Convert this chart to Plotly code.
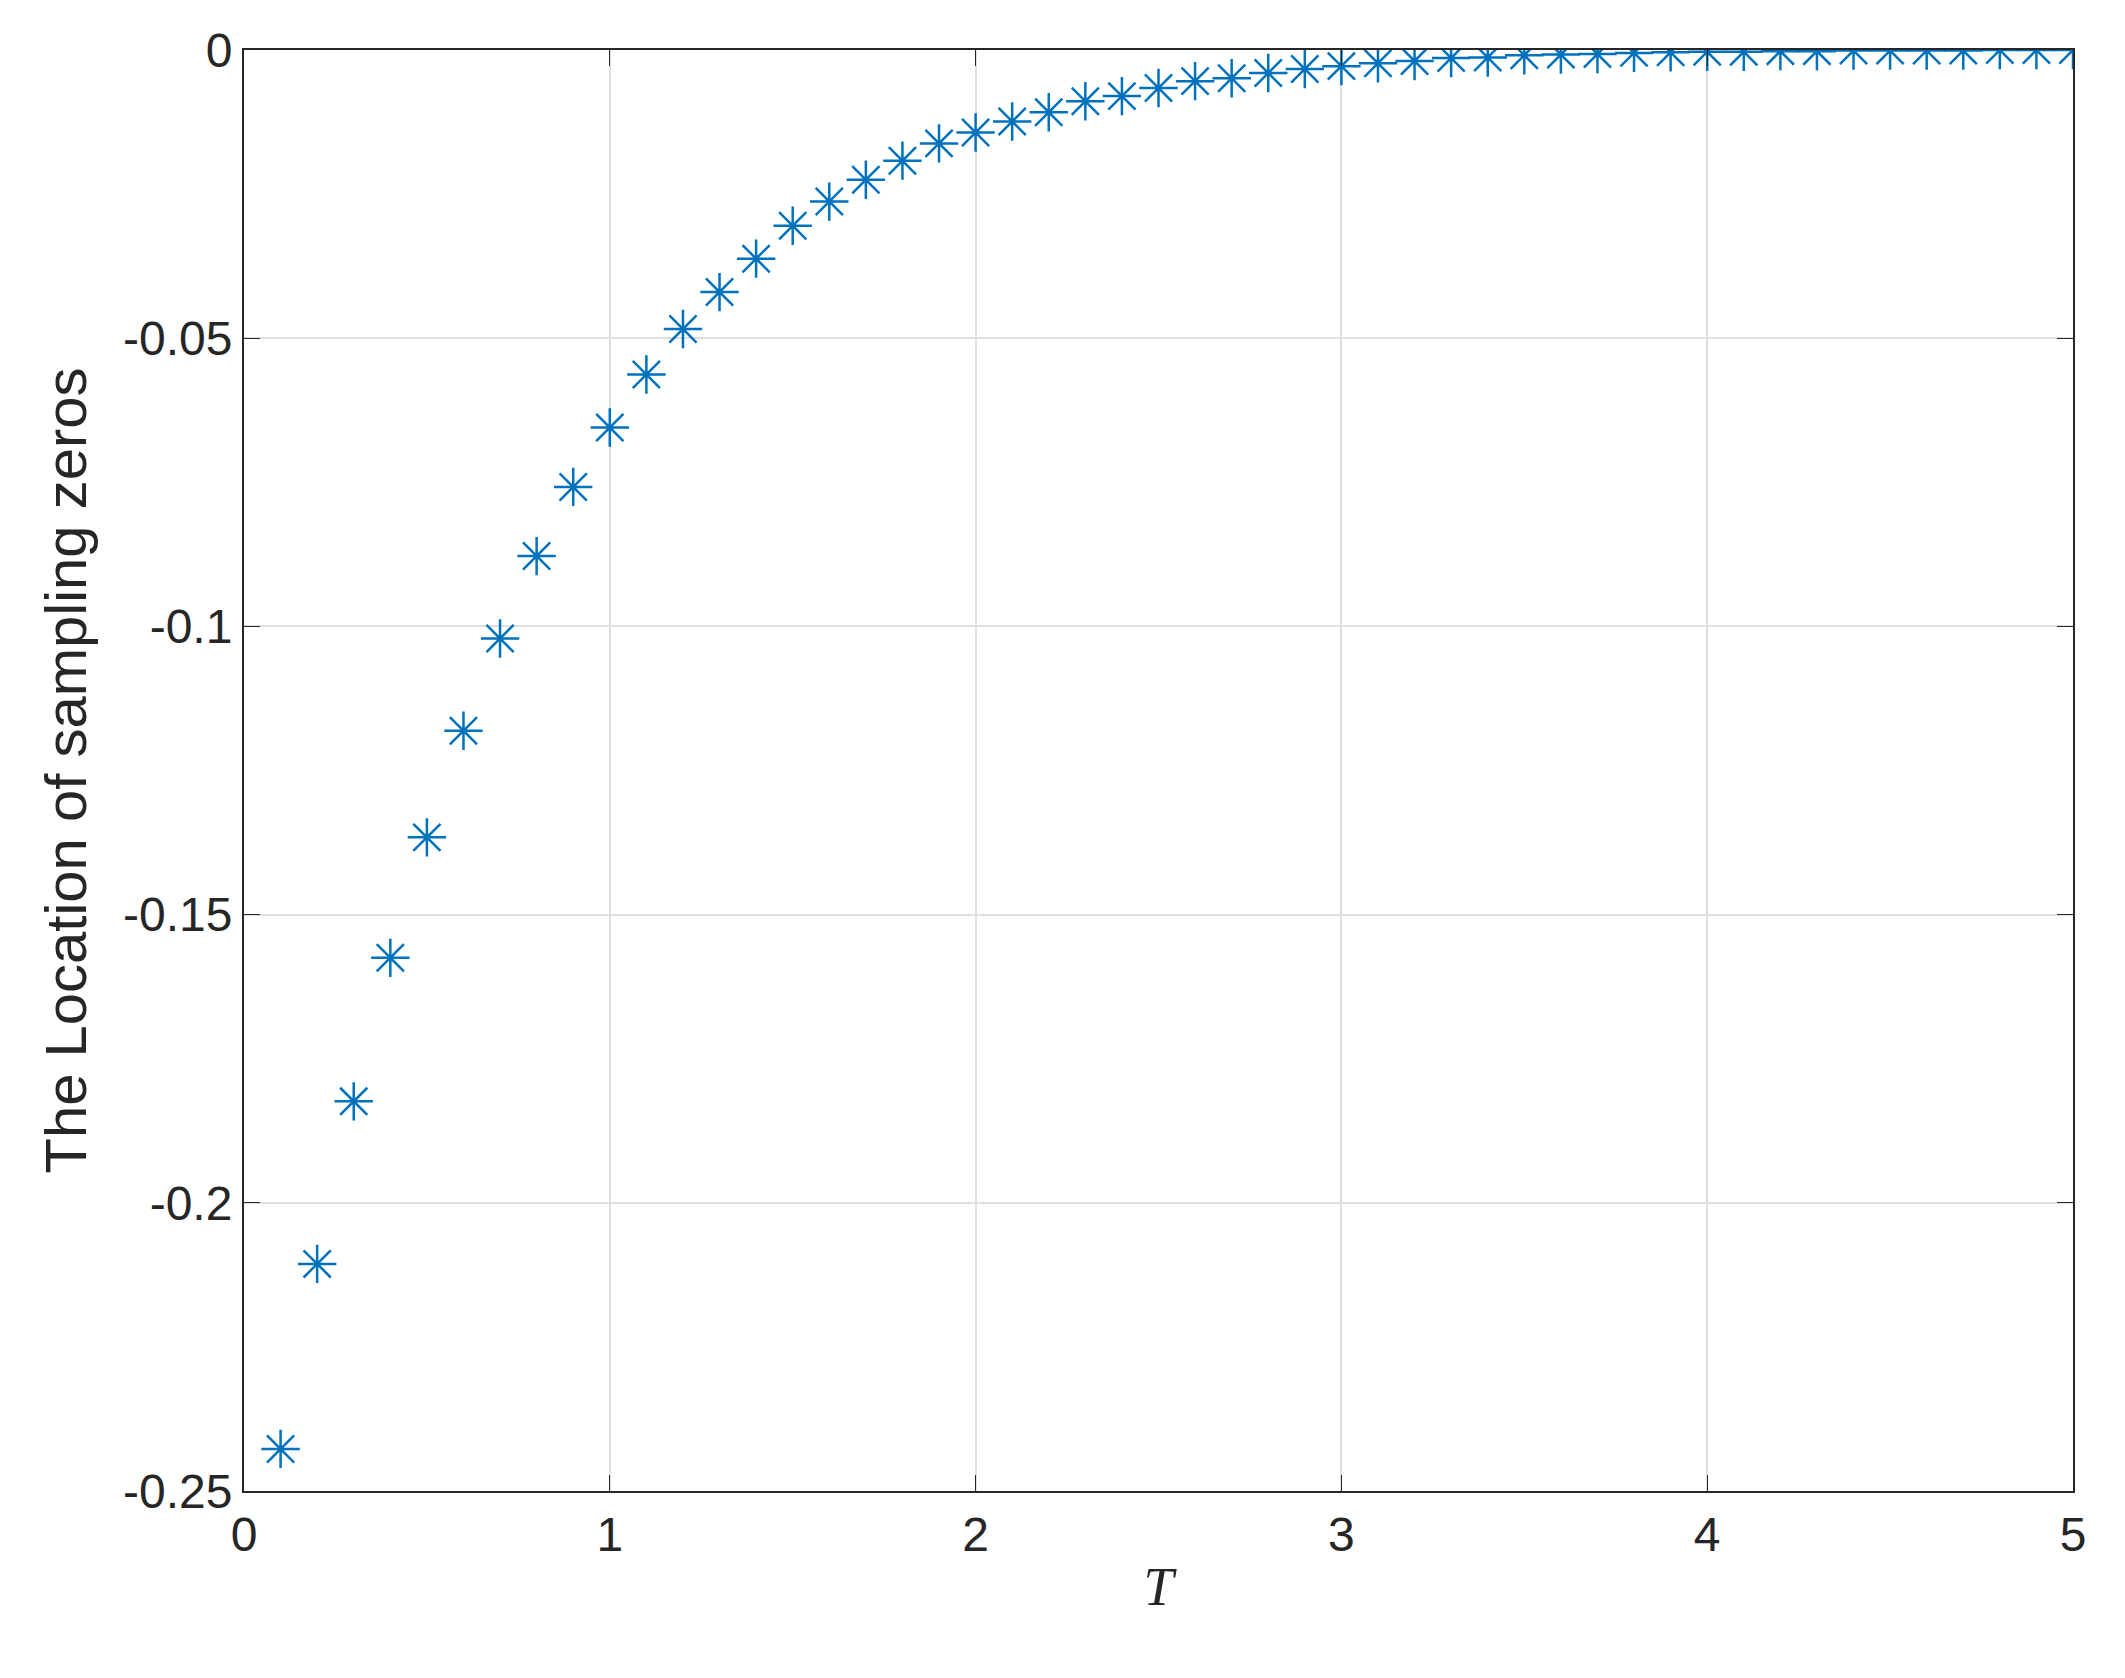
import plotly.graph_objects as go

T = [round(0.1*i, 1) for i in range(1, 51)]
zeros = [-0.2427, -0.2106, -0.1824, -0.1575, -0.1366, -0.1181, -0.1021, -0.0878, -0.0758, -0.0655,
         -0.0563, -0.0484, -0.0420, -0.0362, -0.0305, -0.0263, -0.0225, -0.0192, -0.0162, -0.0143,
         -0.0124, -0.0108, -0.0089, -0.0080, -0.0066, -0.0054, -0.0049, -0.0040, -0.0033, -0.0028,
         -0.0023, -0.0019, -0.0014, -0.0013, -0.0009, -0.0008, -0.0007, -0.0005, -0.0004, -0.0003,
         -0.0003, -0.0002, -0.0002, -0.0001, -0.0001, -0.0001, -0.0001, 0.0, 0.0, 0.0]
xticks = [0, 1, 2, 3, 4, 5]
yticks = [0, -0.05, -0.1, -0.15, -0.2, -0.25]
ytext = ["0", "-0.05", "-0.1", "-0.15", "-0.2", "-0.25"]

fig = go.Figure(go.Scatter(x=T, y=zeros, mode="markers",
    marker=dict(symbol="asterisk-open", size=32, color="#0072BD", line=dict(width=2.5, color="#0072BD"))))
ax = dict(showline=True, linecolor="#262626", linewidth=2, mirror="ticks", ticks="inside", ticklen=16,
          tickcolor="#262626", showgrid=True, gridcolor="#e0e0e0", gridwidth=1.5, zeroline=False,
          tickfont=dict(family="Liberation Sans, Arial", size=48, color="#262626"))
fig.update_xaxes(range=[0, 5], tickvals=xticks, title=dict(text="<i>T</i>", font=dict(family="Liberation Serif", size=54, color="#262626"), standoff=8), **ax)
fig.update_yaxes(range=[-0.25, 0], tickvals=yticks, ticktext=ytext,
                 title=dict(text="The Location of sampling zeros", font=dict(family="Liberation Sans, Arial", size=58, color="#262626"), standoff=18), **ax)
fig.update_layout(width=2125, height=1678, margin=dict(l=236, r=60, t=42, b=195),
                  plot_bgcolor="white", paper_bgcolor="white", showlegend=False)
fig.write_html("out.html")
